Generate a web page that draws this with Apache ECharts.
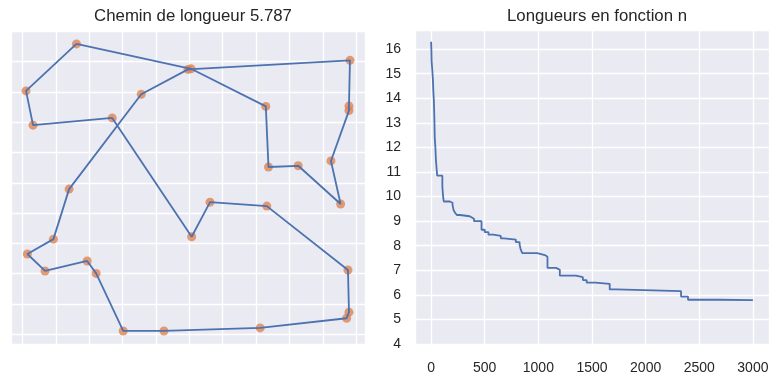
<!DOCTYPE html>
<html>
<head>
<meta charset="utf-8">
<script src="https://cdn.jsdelivr.net/npm/echarts@6/dist/echarts.min.js"></script>
<style>
html,body{margin:0;padding:0;background:#fff;}
#chart{width:780px;height:383px;}
</style>
</head>
<body>
<div id="chart"></div>
<script>
// ---- Data: tour (left panel), in visiting order ----
var tourX = [0.162, 0.011, 0.032, 0.269, 0.507, 0.562, 0.732, 0.975, 0.978, 0.971,
             0.712, 0.424, 0.302, 0.221, 0.194, 0.068, 0.015, 0.093, 0.140, 0.356,
             0.496, 0.981, 0.978, 0.978, 0.924, 0.953, 0.826, 0.737, 0.729, 0.505];
var tourY = [0.958, 0.803, 0.690, 0.714, 0.322, 0.436, 0.423, 0.212, 0.073, 0.053,
             0.021, 0.011, 0.011, 0.201, 0.242, 0.209, 0.265, 0.314, 0.479, 0.792,
             0.874, 0.904, 0.753, 0.738, 0.572, 0.430, 0.556, 0.552, 0.752, 0.876];
var tourLength = "5.787";

// ---- Data: best length vs iteration n (right panel), change points ----
var iterations = [0, 3, 5, 12, 17, 22, 26, 30, 34, 40, 45, 52, 57, 105, 112, 118,
                  175, 200, 210, 222, 240, 270, 360, 380, 400, 470, 500, 535, 580,
                  650, 680, 790, 825, 835, 850, 990, 1060, 1085, 1165, 1200, 1350,
                  1415, 1450, 1530, 1665, 1725, 2330, 2395, 2680, 3000];
var lengths = [16.30, 15.95, 15.50, 15.10, 14.75, 14.20, 13.90, 13.30, 12.40, 12.00,
               11.50, 11.10, 10.85, 10.40, 10.00, 9.80, 9.75, 9.65, 9.45, 9.35,
               9.25, 9.20, 9.15, 9.10, 9.00, 8.65, 8.55, 8.45, 8.40, 8.30, 8.25,
               8.15, 8.05, 7.85, 7.70, 7.62, 7.55, 7.10, 7.02, 6.78, 6.72, 6.60,
               6.50, 6.45, 6.22, 6.15, 5.93, 5.80, 5.787, 5.787];

var leftTitle = "Chemin de longueur " + tourLength;
var rightTitle = "Longueurs en fonction n";

// ---- Build series data ----
var tourPts = tourX.map(function (x, i) { return [x, tourY[i]]; });
var tourPath = tourX.map(function (x, i) { return [x, tourY[i]]; });
tourPath.push([tourX[0], tourY[0]]);
var curvePts = iterations.map(function (n, i) { return [n, lengths[i]]; });

var FONT = "'Liberation Sans', Arial, sans-serif";
var TXT = '#262626';
var BG = '#EAEAF2';
var BLUE = '#4C72B0';
var ORANGE = '#DD8452';

var chart = echarts.init(document.getElementById('chart'), null, {renderer: 'canvas'});
chart.setOption({
  animation: false,
  backgroundColor: '#ffffff',
  title: [
    {text: leftTitle, left: 188, top: 3, textAlign: 'center',
     textStyle: {fontFamily: FONT, fontSize: 16.8, fontWeight: 'normal', color: TXT}},
    {text: rightTitle, left: 592, top: 3, textAlign: 'center',
     textStyle: {fontFamily: FONT, fontSize: 16.8, fontWeight: 'normal', color: TXT}}
  ],
  grid: [
    {left: 11, top: 30, width: 354, height: 314, show: true, backgroundColor: BG, borderWidth: 0},
    {left: 415, top: 30, width: 354, height: 314, show: true, backgroundColor: BG, borderWidth: 0}
  ],
  xAxis: [
    {gridIndex: 0, type: 'value', min: -0.034, max: 1.026, minInterval: 0.1, maxInterval: 0.1,
     axisLine: {show: false}, axisTick: {show: false}, axisLabel: {show: false},
     splitLine: {show: true, lineStyle: {color: '#ffffff', width: 1.3}}},
    {gridIndex: 1, type: 'value', min: -150, max: 3150, minInterval: 500, maxInterval: 500,
     axisLine: {show: false}, axisTick: {show: false},
     axisLabel: {show: true, showMinLabel: false, showMaxLabel: false, margin: 17,
                 fontFamily: FONT, fontSize: 14, color: TXT,
                 formatter: function (v) { return String(v); }},
     splitLine: {show: true, lineStyle: {color: '#ffffff', width: 1.3}}}
  ],
  yAxis: [
    {gridIndex: 0, type: 'value', min: -0.032, max: 1.004, minInterval: 0.1, maxInterval: 0.1,
     axisLine: {show: false}, axisTick: {show: false}, axisLabel: {show: false},
     splitLine: {show: true, lineStyle: {color: '#ffffff', width: 1.3}}},
    {gridIndex: 1, type: 'value', min: 4, max: 16.78, minInterval: 1, maxInterval: 1,
     axisLine: {show: false}, axisTick: {show: false},
     axisLabel: {show: true, showMaxLabel: false, margin: 14,
                 fontFamily: FONT, fontSize: 14, color: TXT,
                 formatter: function (v) { return String(v); }},
     splitLine: {show: true, lineStyle: {color: '#ffffff', width: 1.3}}}
  ],
  series: [
    {type: 'scatter', xAxisIndex: 0, yAxisIndex: 0, data: tourPts, symbolSize: 9,
     itemStyle: {color: ORANGE}, z: 2, silent: true},
    {type: 'line', xAxisIndex: 0, yAxisIndex: 0, data: tourPath, showSymbol: false,
     lineStyle: {color: BLUE, width: 1.8}, z: 3, silent: true},
    {type: 'line', xAxisIndex: 1, yAxisIndex: 1, data: curvePts, step: 'end', showSymbol: false,
     lineStyle: {color: BLUE, width: 1.8}, z: 3, silent: true}
  ]
});
</script>
</body>
</html>
